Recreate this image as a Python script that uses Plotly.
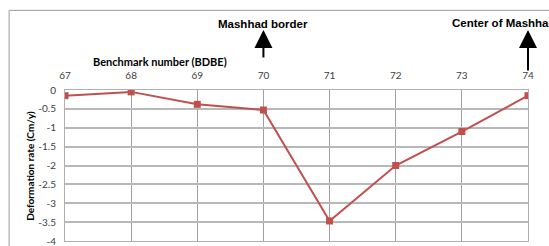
import plotly.graph_objects as go

benchmarks = [67, 68, 69, 70, 71, 72, 73, 74]
deformation = [-0.15, -0.05, -0.38, -0.53, -3.47, -2.0, -1.1, -0.15]
y_ticks = [0, -0.5, -1, -1.5, -2, -2.5, -3, -3.5, -4]
y_tick_labels = ["0", "-0.5", "-1", "-1.5", "-2", "-2.5", "-3", "-3.5", "-4"]
x_title = "Benchmark number (BDBE)"
y_title = "Deformation rate (Cm/y)"
markers_text = [(70, "Mashhad border"), (74, "Center of Mashhad")]

W, H = 549, 246
L, R, T, B = 64.5, 20.5, 90, 5.3
pw, ph = W - L - R, H - T - B

def px_to_paper_x(px):
    return (px - L) / pw

def px_to_paper_y(py):
    return 1 + (T - py) / ph

fig = go.Figure()
fig.add_trace(go.Scatter(
    x=benchmarks, y=deformation, mode="lines+markers",
    line=dict(color="#C0504D", width=2),
    marker=dict(symbol="square", size=7, color="#C0504D"),
    showlegend=False,
))

annotations = []
annotations.append(dict(x=markers_text[0][0], xref="x", y=px_to_paper_y(30), yref="paper",
                        text="", showarrow=True, ax=0, ay=29,
                        arrowhead=2, arrowsize=1.8, arrowwidth=2, arrowcolor="black"))
annotations.append(dict(x=markers_text[1][0], xref="x", y=px_to_paper_y(30), yref="paper",
                        text="", showarrow=True, ax=0, ay=42,
                        arrowhead=2, arrowsize=1.8, arrowwidth=2, arrowcolor="black"))
annotations.append(dict(x=markers_text[0][0], xref="x", y=px_to_paper_y(24), yref="paper",
                        text="<b>" + markers_text[0][1] + "</b>", showarrow=False,
                        xanchor="center", yanchor="middle",
                        font=dict(family="Liberation Sans, Arial", size=11.5, color="black")))
annotations.append(dict(x=px_to_paper_x(450), xref="paper", y=px_to_paper_y(23), yref="paper",
                        text="<b>" + markers_text[1][1] + "</b>", showarrow=False,
                        xanchor="left", yanchor="middle",
                        font=dict(family="Liberation Sans, Arial", size=11.5, color="black")))
annotations.append(dict(x=px_to_paper_x(160), xref="paper", y=px_to_paper_y(62), yref="paper",
                        text="<b>" + x_title + "</b>", showarrow=False,
                        xanchor="center", yanchor="middle",
                        font=dict(family="Lato, Open Sans", size=11, color="black")))
annotations.append(dict(x=px_to_paper_x(30), xref="paper", y=px_to_paper_y(166), yref="paper",
                        text="<b>" + y_title + "</b>", showarrow=False, textangle=-90,
                        xanchor="center", yanchor="middle",
                        font=dict(family="Lato, Open Sans", size=10, color="black")))

shapes = [
    dict(type="line", xref="paper", yref="paper",
         x0=px_to_paper_x(8.5), x1=px_to_paper_x(8.5), y0=px_to_paper_y(10.5), y1=px_to_paper_y(250),
         line=dict(color="#9a9a9a", width=1)),
    dict(type="line", xref="paper", yref="paper",
         x0=px_to_paper_x(8.5), x1=px_to_paper_x(560), y0=px_to_paper_y(10.5), y1=px_to_paper_y(10.5),
         line=dict(color="#9a9a9a", width=1)),
]

fig.update_layout(
    width=W, height=H,
    margin=dict(l=L, r=R, t=T, b=B, autoexpand=False),
    paper_bgcolor="white", plot_bgcolor="white",
    annotations=annotations, shapes=shapes,
    xaxis=dict(side="top", range=[67, 74], tickmode="array", tickvals=benchmarks,
               showgrid=True, gridcolor="#a0a0a0", gridwidth=1,
               showline=True, linecolor="#b0b0b0", linewidth=1, mirror=True,
               zeroline=False, ticks="", ticklen=0, ticklabelstandoff=6,
               ticklabeloverflow="allow",
               tickfont=dict(family="Lato, Open Sans", size=10, color="#404040")),
    yaxis=dict(range=[-4, 0], tickmode="array", tickvals=y_ticks, ticktext=y_tick_labels,
               showgrid=True, gridcolor="#b8b8b8", gridwidth=1.5,
               showline=True, linecolor="#b0b0b0", linewidth=1, mirror=True,
               zeroline=False, ticks="", ticklen=0, ticklabelstandoff=6,
               ticklabeloverflow="allow",
               tickfont=dict(family="Lato, Open Sans", size=10, color="#404040")),
)

fig.write_html("out.html", config={"displayModeBar": False},
               post_script="document.body.style.margin='0';document.body.style.overflow='hidden';")
